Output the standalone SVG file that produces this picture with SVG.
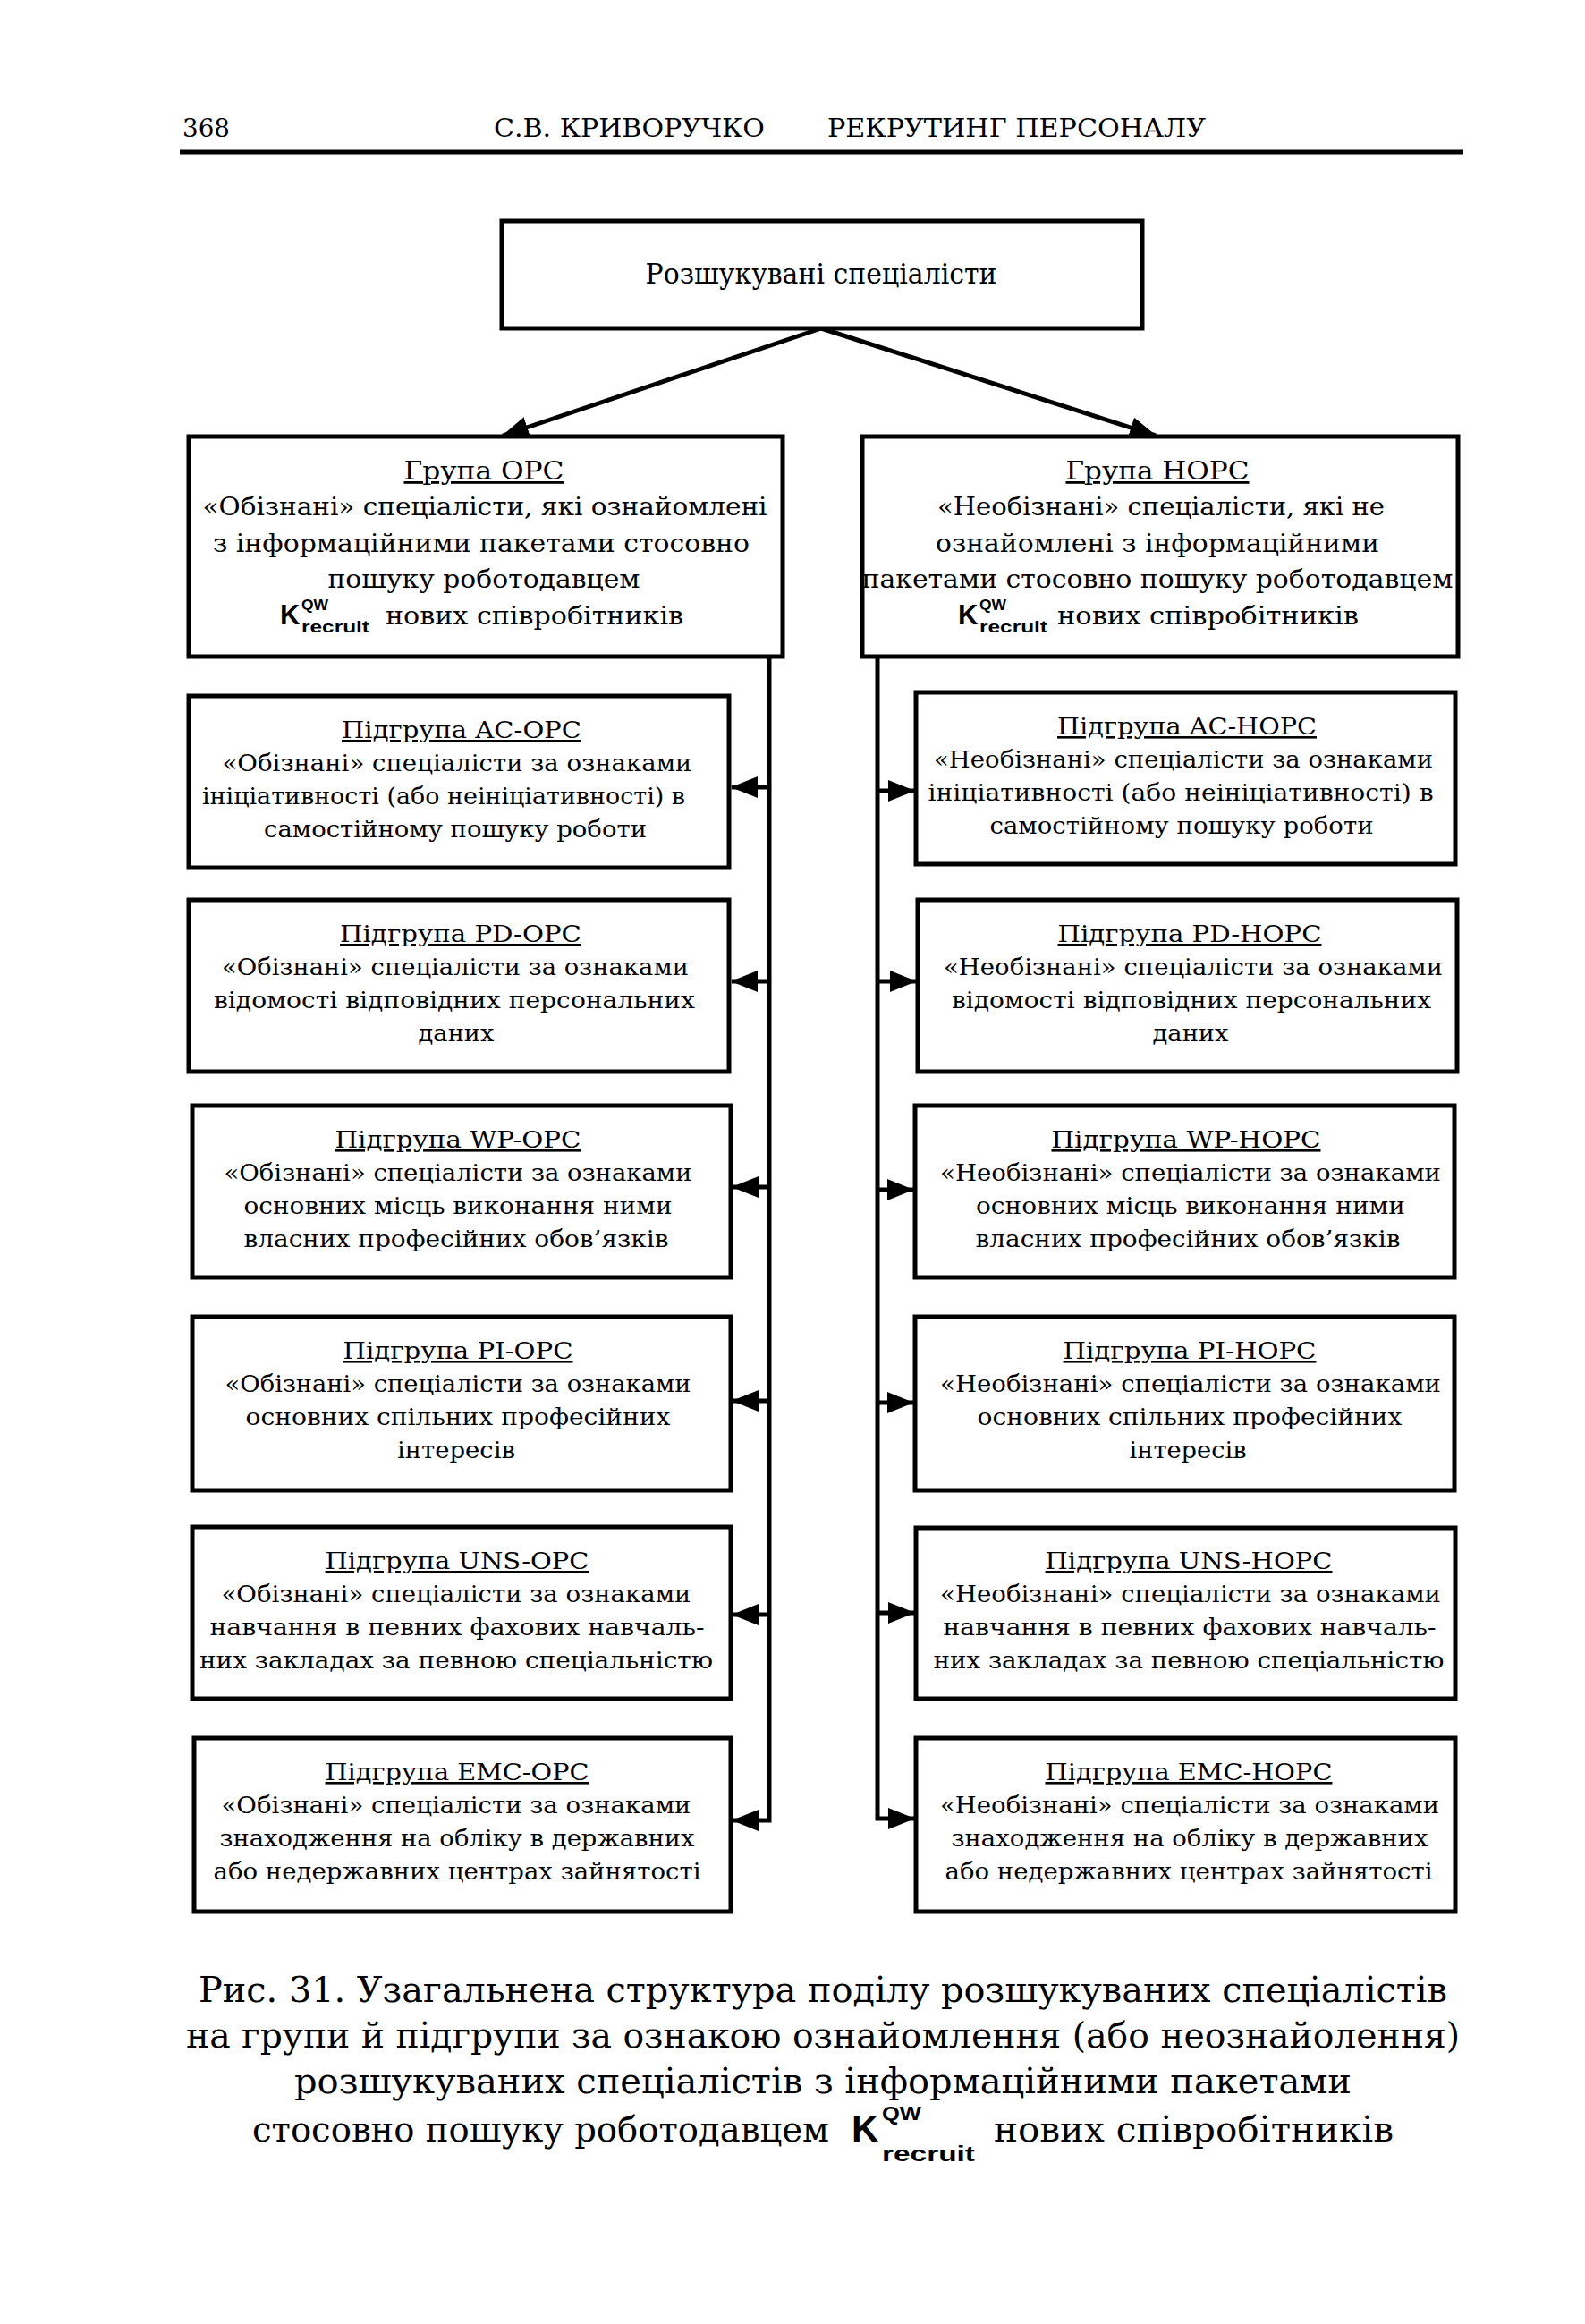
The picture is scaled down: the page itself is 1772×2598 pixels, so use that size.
<svg xmlns="http://www.w3.org/2000/svg" width="1772" height="2598" viewBox="0 0 1772 2598">
<style>
.box{fill:#fff;stroke:#000;stroke-width:5}
.ln{fill:none;stroke:#000;stroke-width:5}
.t{font-family:"DejaVu Serif","Liberation Serif",serif;fill:#000;text-anchor:middle}
.s{font-family:"DejaVu Serif","Liberation Serif",serif;fill:#000}
.sg{font-size:26px}
.gp{font-size:28px}
.u{text-decoration:underline}
.k{font-family:"Liberation Sans",Arial,sans-serif;font-weight:bold;fill:#000}
</style>
<defs>
<marker id="ah" viewBox="0 0 30 24" refX="29" refY="12" markerWidth="30" markerHeight="24" markerUnits="userSpaceOnUse" orient="auto"><path d="M0,0 L30,12 L0,24 z" fill="#000"/></marker>
</defs>
<rect width="1772" height="2598" fill="#fff"/>
<g id="header">
<text class="s" x="204" y="153" font-size="28" textLength="53" lengthAdjust="spacingAndGlyphs">368</text>
<text class="s" x="552" y="153" font-size="28" textLength="303" lengthAdjust="spacingAndGlyphs">С.В. КРИВОРУЧКО</text>
<text class="s" x="925" y="153" font-size="28" textLength="423" lengthAdjust="spacingAndGlyphs">РЕКРУТИНГ ПЕРСОНАЛУ</text>
<line x1="201" y1="170" x2="1636" y2="170" stroke="#000" stroke-width="5"/>
</g>
<g id="connectors">
<line class="ln" x1="918" y1="367" x2="562" y2="487" marker-end="url(#ah)"/>
<line class="ln" x1="918" y1="367" x2="1292" y2="487" marker-end="url(#ah)"/>
<path class="ln" d="M860,734 V2035 H819" marker-end="url(#ah)"/>
<line class="ln" x1="860" y1="880" x2="818" y2="880" marker-end="url(#ah)"/>
<line class="ln" x1="860" y1="1097" x2="818" y2="1097" marker-end="url(#ah)"/>
<line class="ln" x1="860" y1="1327" x2="819" y2="1327" marker-end="url(#ah)"/>
<line class="ln" x1="860" y1="1566" x2="819" y2="1566" marker-end="url(#ah)"/>
<line class="ln" x1="860" y1="1805" x2="819" y2="1805" marker-end="url(#ah)"/>
<path class="ln" d="M981,734 V2033 H1022" marker-end="url(#ah)"/>
<line class="ln" x1="981" y1="884" x2="1022" y2="884" marker-end="url(#ah)"/>
<line class="ln" x1="981" y1="1097" x2="1024" y2="1097" marker-end="url(#ah)"/>
<line class="ln" x1="981" y1="1330" x2="1021" y2="1330" marker-end="url(#ah)"/>
<line class="ln" x1="981" y1="1568" x2="1021" y2="1568" marker-end="url(#ah)"/>
<line class="ln" x1="981" y1="1803" x2="1022" y2="1803" marker-end="url(#ah)"/>
</g>
<g id="root">
<rect class="box" x="561" y="247" width="716" height="120"/>
<text class="t" x="918" y="317" font-size="32" textLength="393" lengthAdjust="spacingAndGlyphs">Розшукувані спеціалісти</text>
</g>
<g id="group-opc">
<rect class="box" x="211" y="488" width="664" height="246"/>
<text class="t gp u" x="541" y="536" textLength="179" lengthAdjust="spacingAndGlyphs">Група ОРС</text>
<text class="t gp" x="542" y="576" textLength="631" lengthAdjust="spacingAndGlyphs">«Обізнані» спеціалісти, які ознайомлені</text>
<text class="t gp" x="538" y="617" textLength="600" lengthAdjust="spacingAndGlyphs">з інформаційними пакетами стосовно</text>
<text class="t gp" x="541" y="657" textLength="349" lengthAdjust="spacingAndGlyphs">пошуку роботодавцем</text>
<text class="k" x="313" y="698" font-size="31">K</text>
<text class="k" x="337" y="682" font-size="17" textLength="30" lengthAdjust="spacingAndGlyphs">QW</text>
<text class="k" x="337" y="707" font-size="19" textLength="76" lengthAdjust="spacingAndGlyphs">recruit</text>
<text class="s gp" x="431" y="698" textLength="333" lengthAdjust="spacingAndGlyphs">нових співробітників</text>
</g>
<g id="group-nopc">
<rect class="box" x="964" y="488" width="666" height="246"/>
<text class="t gp u" x="1294" y="536" textLength="205" lengthAdjust="spacingAndGlyphs">Група НОРС</text>
<text class="t gp" x="1298" y="576" textLength="500" lengthAdjust="spacingAndGlyphs">«Необізнані» спеціалісти, які не</text>
<text class="t gp" x="1294" y="617" textLength="496" lengthAdjust="spacingAndGlyphs">ознайомлені з інформаційними</text>
<text class="t gp" x="1294" y="657" textLength="661" lengthAdjust="spacingAndGlyphs">пакетами стосовно пошуку роботодавцем</text>
<text class="k" x="1071" y="698" font-size="31">K</text>
<text class="k" x="1095" y="682" font-size="17" textLength="30" lengthAdjust="spacingAndGlyphs">QW</text>
<text class="k" x="1095" y="707" font-size="19" textLength="76" lengthAdjust="spacingAndGlyphs">recruit</text>
<text class="s gp" x="1182" y="698" textLength="337" lengthAdjust="spacingAndGlyphs">нових співробітників</text>
</g>
<g id="ac-opc">
<rect class="box" x="211" y="778" width="604" height="192"/>
<text class="t sg u" x="516" y="825" textLength="268" lengthAdjust="spacingAndGlyphs">Підгрупа AC-ОРС</text>
<text class="t sg" x="511" y="862" textLength="525" lengthAdjust="spacingAndGlyphs">«Обізнані» спеціалісти за ознаками</text>
<text class="t sg" x="496" y="899" textLength="540" lengthAdjust="spacingAndGlyphs">ініціативності (або неініціативності) в</text>
<text class="t sg" x="509" y="936" textLength="428" lengthAdjust="spacingAndGlyphs">самостійному пошуку роботи</text>
</g>
<g id="pd-opc">
<rect class="box" x="211" y="1006" width="604" height="192"/>
<text class="t sg u" x="515" y="1053" textLength="270" lengthAdjust="spacingAndGlyphs">Підгрупа PD-ОРС</text>
<text class="t sg" x="509" y="1090" textLength="522" lengthAdjust="spacingAndGlyphs">«Обізнані» спеціалісти за ознаками</text>
<text class="t sg" x="508" y="1127" textLength="538" lengthAdjust="spacingAndGlyphs">відомості відповідних персональних</text>
<text class="t sg" x="510" y="1164" textLength="85" lengthAdjust="spacingAndGlyphs">даних</text>
</g>
<g id="wp-opc">
<rect class="box" x="215" y="1236" width="602" height="192"/>
<text class="t sg u" x="512" y="1283" textLength="275" lengthAdjust="spacingAndGlyphs">Підгрупа WP-ОРС</text>
<text class="t sg" x="512" y="1320" textLength="523" lengthAdjust="spacingAndGlyphs">«Обізнані» спеціалісти за ознаками</text>
<text class="t sg" x="512" y="1357" textLength="479" lengthAdjust="spacingAndGlyphs">основних місць виконання ними</text>
<text class="t sg" x="510" y="1394" textLength="475" lengthAdjust="spacingAndGlyphs">власних професійних обов’язків</text>
</g>
<g id="pi-opc">
<rect class="box" x="215" y="1472" width="602" height="194"/>
<text class="t sg u" x="512" y="1519" textLength="257" lengthAdjust="spacingAndGlyphs">Підгрупа PI-ОРС</text>
<text class="t sg" x="512" y="1556" textLength="521" lengthAdjust="spacingAndGlyphs">«Обізнані» спеціалісти за ознаками</text>
<text class="t sg" x="512" y="1593" textLength="475" lengthAdjust="spacingAndGlyphs">основних спільних професійних</text>
<text class="t sg" x="510" y="1630" textLength="132" lengthAdjust="spacingAndGlyphs">інтересів</text>
</g>
<g id="uns-opc">
<rect class="box" x="215" y="1707" width="602" height="192"/>
<text class="t sg u" x="511" y="1754" textLength="295" lengthAdjust="spacingAndGlyphs">Підгрупа UNS-ОРС</text>
<text class="t sg" x="510" y="1791" textLength="525" lengthAdjust="spacingAndGlyphs">«Обізнані» спеціалісти за ознаками</text>
<text class="t sg" x="511" y="1828" textLength="553" lengthAdjust="spacingAndGlyphs">навчання в певних фахових навчаль-</text>
<text class="t sg" x="510" y="1865" textLength="574" lengthAdjust="spacingAndGlyphs">них закладах за певною спеціальністю</text>
</g>
<g id="emc-opc">
<rect class="box" x="217" y="1943" width="600" height="194"/>
<text class="t sg u" x="511" y="1990" textLength="295" lengthAdjust="spacingAndGlyphs">Підгрупа EMC-ОРС</text>
<text class="t sg" x="510" y="2027" textLength="525" lengthAdjust="spacingAndGlyphs">«Обізнані» спеціалісти за ознаками</text>
<text class="t sg" x="511" y="2064" textLength="531" lengthAdjust="spacingAndGlyphs">знаходження на обліку в державних</text>
<text class="t sg" x="511" y="2101" textLength="545" lengthAdjust="spacingAndGlyphs">або недержавних центрах зайнятості</text>
</g>
<g id="ac-nopc">
<rect class="box" x="1024" y="774" width="603" height="192"/>
<text class="t sg u" x="1327" y="821" textLength="290" lengthAdjust="spacingAndGlyphs">Підгрупа AC-НОРС</text>
<text class="t sg" x="1323" y="858" textLength="558" lengthAdjust="spacingAndGlyphs">«Необізнані» спеціалісти за ознаками</text>
<text class="t sg" x="1320" y="895" textLength="565" lengthAdjust="spacingAndGlyphs">ініціативності (або неініціативності) в</text>
<text class="t sg" x="1321" y="932" textLength="429" lengthAdjust="spacingAndGlyphs">самостійному пошуку роботи</text>
</g>
<g id="pd-nopc">
<rect class="box" x="1026" y="1006" width="603" height="192"/>
<text class="t sg u" x="1330" y="1053" textLength="295" lengthAdjust="spacingAndGlyphs">Підгрупа PD-НОРС</text>
<text class="t sg" x="1334" y="1090" textLength="558" lengthAdjust="spacingAndGlyphs">«Необізнані» спеціалісти за ознаками</text>
<text class="t sg" x="1332" y="1127" textLength="536" lengthAdjust="spacingAndGlyphs">відомості відповідних персональних</text>
<text class="t sg" x="1331" y="1164" textLength="85" lengthAdjust="spacingAndGlyphs">даних</text>
</g>
<g id="wp-nopc">
<rect class="box" x="1023" y="1236" width="603" height="192"/>
<text class="t sg u" x="1326" y="1283" textLength="301" lengthAdjust="spacingAndGlyphs">Підгрупа WP-НОРС</text>
<text class="t sg" x="1331" y="1320" textLength="560" lengthAdjust="spacingAndGlyphs">«Необізнані» спеціалісти за ознаками</text>
<text class="t sg" x="1331" y="1357" textLength="480" lengthAdjust="spacingAndGlyphs">основних місць виконання ними</text>
<text class="t sg" x="1328" y="1394" textLength="475" lengthAdjust="spacingAndGlyphs">власних професійних обов’язків</text>
</g>
<g id="pi-nopc">
<rect class="box" x="1023" y="1472" width="603" height="194"/>
<text class="t sg u" x="1330" y="1519" textLength="283" lengthAdjust="spacingAndGlyphs">Підгрупа PI-НОРС</text>
<text class="t sg" x="1331" y="1556" textLength="560" lengthAdjust="spacingAndGlyphs">«Необізнані» спеціалісти за ознаками</text>
<text class="t sg" x="1330" y="1593" textLength="475" lengthAdjust="spacingAndGlyphs">основних спільних професійних</text>
<text class="t sg" x="1328" y="1630" textLength="131" lengthAdjust="spacingAndGlyphs">інтересів</text>
</g>
<g id="uns-nopc">
<rect class="box" x="1024" y="1708" width="603" height="191"/>
<text class="t sg u" x="1329" y="1754" textLength="321" lengthAdjust="spacingAndGlyphs">Підгрупа UNS-НОРС</text>
<text class="t sg" x="1331" y="1791" textLength="560" lengthAdjust="spacingAndGlyphs">«Необізнані» спеціалісти за ознаками</text>
<text class="t sg" x="1330" y="1828" textLength="551" lengthAdjust="spacingAndGlyphs">навчання в певних фахових навчаль-</text>
<text class="t sg" x="1329" y="1865" textLength="571" lengthAdjust="spacingAndGlyphs">них закладах за певною спеціальністю</text>
</g>
<g id="emc-nopc">
<rect class="box" x="1024" y="1943" width="603" height="194"/>
<text class="t sg u" x="1329" y="1990" textLength="321" lengthAdjust="spacingAndGlyphs">Підгрупа EMC-НОРС</text>
<text class="t sg" x="1330" y="2027" textLength="558" lengthAdjust="spacingAndGlyphs">«Необізнані» спеціалісти за ознаками</text>
<text class="t sg" x="1330" y="2064" textLength="533" lengthAdjust="spacingAndGlyphs">знаходження на обліку в державних</text>
<text class="t sg" x="1329" y="2101" textLength="545" lengthAdjust="spacingAndGlyphs">або недержавних центрах зайнятості</text>
</g>
<g id="caption">
<text class="s" x="222" y="2238" font-size="40" textLength="1396" lengthAdjust="spacingAndGlyphs">Рис. 31. Узагальнена структура поділу розшукуваних спеціалістів</text>
<text class="s" x="208" y="2289" font-size="40" textLength="1424" lengthAdjust="spacingAndGlyphs">на групи й підгрупи за ознакою ознайомлення (або неознайолення)</text>
<text class="s" x="329" y="2340" font-size="40" textLength="1182" lengthAdjust="spacingAndGlyphs">розшукуваних спеціалістів з інформаційними пакетами</text>
<text class="s" x="282" y="2394" font-size="40" textLength="645" lengthAdjust="spacingAndGlyphs">стосовно пошуку роботодавцем</text>
<text class="k" x="952" y="2394" font-size="42">K</text>
<text class="k" x="986" y="2370" font-size="22" textLength="44" lengthAdjust="spacingAndGlyphs">QW</text>
<text class="k" x="986" y="2416" font-size="24" textLength="104" lengthAdjust="spacingAndGlyphs">recruit</text>
<text class="s" x="1111" y="2394" font-size="40" textLength="447" lengthAdjust="spacingAndGlyphs">нових співробітників</text>
</g>
</svg>
